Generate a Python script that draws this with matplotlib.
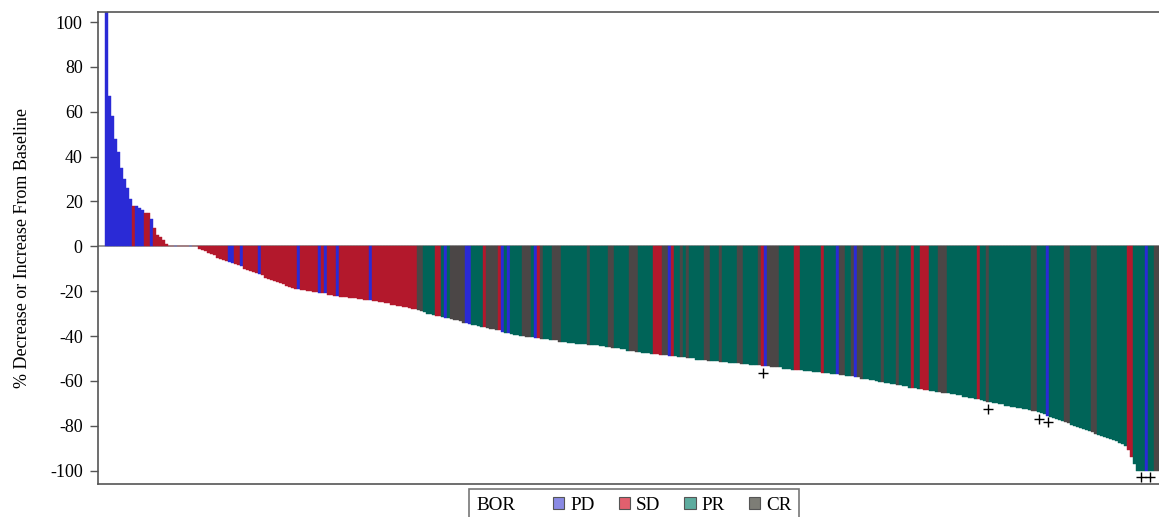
import matplotlib
matplotlib.use("Agg")
import matplotlib.pyplot as plt
import matplotlib.patches as mpatches
import numpy as np

# % change from baseline, one bar per patient, sorted
pct_change = [
    150, 67, 58, 48, 42, 35, 30, 26, 21, 18,
    18, 17, 16, 15, 15, 12, 8, 5, 4, 3,
    1, 0, 0, 0, 0, 0, 0, 0, 0, 0,
    0, -1, -1.5, -2, -3, -3.5, -4, -5, -5.5, -6,
    -6.5, -7, -7.5, -8, -8.5, -9, -10, -10.5, -11, -11.5,
    -12, -12.5, -13, -14, -14.5, -15, -15.5, -16, -16.5, -17,
    -17.5, -18, -18.5, -19, -19, -19.5, -19.5, -20, -20, -20.5,
    -20.5, -21, -21, -21, -21.5, -21.5, -22, -22, -22.5, -22.5,
    -22.5, -23, -23, -23, -23.5, -23.5, -24, -24, -24, -24.5,
    -24.5, -25, -25, -25.5, -25.5, -26, -26, -26.5, -26.5, -27,
    -27, -27.5, -28, -28, -28.5, -29, -29.5, -30, -30, -30.5,
    -31, -31, -31.5, -32, -32, -32.5, -33, -33, -33.5, -34,
    -34, -34.5, -35, -35, -35.5, -36, -36, -36.5, -37, -37,
    -37.5, -37.5, -38, -38.5, -38.5, -39, -39.5, -39.5, -40, -40,
    -40.5, -40.5, -40.5, -41, -41, -41.5, -41.5, -41.5, -42, -42,
    -42, -42.5, -42.5, -42.5, -43, -43, -43, -43.5, -43.5, -43.5,
    -43.5, -44, -44, -44, -44, -44.5, -44.5, -45, -45, -45.5,
    -45.5, -45.5, -46, -46, -46.5, -46.5, -46.5, -47, -47, -47.5,
    -47.5, -47.5, -48, -48, -48, -48.5, -48.5, -48.5, -49, -49,
    -49, -49.5, -49.5, -49.5, -50, -50, -50, -50.5, -50.5, -50.5,
    -50.5, -51, -51, -51, -51, -51.5, -51.5, -51.5, -52, -52,
    -52, -52, -52.5, -52.5, -52.5, -53, -53, -53, -53, -53.5,
    -53.5, -53.5, -54, -54, -54, -54, -54.5, -54.5, -54.5, -55,
    -55, -55, -55, -55.5, -55.5, -55.5, -56, -56, -56, -56.5,
    -56.5, -56.5, -57, -57, -57, -57.5, -57.5, -58, -58, -58,
    -58.5, -58.5, -59, -59, -59, -59.5, -59.5, -60, -60.5, -60.5,
    -61, -61, -61.5, -61.5, -62, -62, -62.5, -62.5, -63, -63,
    -63, -63.5, -63.5, -64, -64, -64.5, -64.5, -65, -65, -65.5,
    -65.5, -65.5, -66, -66, -66.5, -66.5, -67, -67, -67.5, -67.5,
    -68, -68, -68.5, -69, -69.5, -69.5, -70, -70, -70.5, -70.5,
    -71, -71, -71.5, -71.5, -72, -72, -72.5, -72.5, -73, -73.5,
    -73.5, -74, -74.5, -75, -75.5, -76, -76.5, -77, -77.5, -78,
    -78.5, -79, -79.5, -80, -80.5, -81, -81.5, -82, -82.5, -83,
    -83.5, -84, -84.5, -85, -85.5, -86, -86.5, -87, -87.5, -88,
    -89, -91, -94, -97, -100, -100, -100, -100, -100, -100, -100, -100,
]

# best overall response per bar: P=PD, S=SD, R=PR, C=CR
bor_codes = (
    "PPPPPPPPP" "S" "PPP" "SS" "P" "SSSSS" "SSPSSSSPSS" "SSSSSSSSSS"
    "PP" "SS" "P" "SSSSS" "P" "SSSSSSSSSSSS" "PS" "SSSSS" "PSP" "SSS" "P"
    "SSSSSSSSSS" "P" "SSSSSSSSSSSSSSS" "CC" "RRRR" "SS" "R" "P" "R"
    "CCCCC" "PP" "RRRR" "S" "CCCC" "S" "P" "R" "P" "RRRR" "CCC" "R" "P"
    "S" "C" "RRR" "CCC" "RRRRRRRRR" "C" "RRRRRR" "CC" "RRRRR" "CCC"
    "RRRRR" "SSS" "CC" "P" "S" "RR" "C" "R" "C" "RRRRR" "CC" "RRR" "C"
    "RRRRR" "CC" "RRRRR" "C" "S" "P" "CCCC" "RRRRR" "SS" "RRRRRRR" "S"
    "RRRR" "P" "CC" "RR" "C" "P" "CC" "RRRRRR" "C" "RRRR" "C" "RRRR" "S"
    "RR" "SSS" "RRR" "CCC" "RRRRRRRRRR" "S" "RR" "C" "RRRRRRRRRRRRRR"
    "CC" "RRR" "P" "RRRRR" "CC" "RRRRRRR" "CC" "RRRRRRRRRR" "SS" "RRRR"
    "P" "RR" "CC"
)
bor = list(bor_codes)
assert len(bor) == len(pct_change)

# bars flagged with a "+" below them
flagged = [219, 294, 311, 314, 345, 348]

categories = ["PD", "SD", "PR", "CR"]
bar_colors = {"P": "#2a2ad6", "S": "#b3182c", "R": "#006458", "C": "#4b4646"}
legend_colors = {"PD": "#8a8ae4", "SD": "#e2606e", "PR": "#5eac9f", "CR": "#7d7d76"}

plt.rcParams["font.family"] = ["Liberation Serif", "DejaVu Serif"]
plt.rcParams["axes.unicode_minus"] = False

fig = plt.figure(figsize=(11.59, 5.17), dpi=100)
ax = fig.add_axes([98 / 1159, 33 / 517, 1062 / 1159, 472 / 517])

x = np.arange(len(pct_change))
cols = [bar_colors[c] for c in bor]
ax.axhline(0, color="#8a8a8a", lw=1.2, zorder=0)
ax.bar(x, pct_change, width=1.0, color=cols, edgecolor=cols, linewidth=0.3, zorder=2)

vals = np.array(pct_change, dtype=float)
ax.plot(x[flagged], vals[flagged] - 3, linestyle="none", marker="+",
        color="black", markersize=7, markeredgewidth=1.0, zorder=3)

ax.set_xlim(-2.8, len(pct_change) - 0.5)
ax.set_ylim(-106, 104.5)
ax.set_yticks(np.arange(-100, 101, 20))
ax.set_xticks([])
ax.tick_params(axis="y", labelsize=13, length=6, width=1.0, color="#555555", pad=5)
ax.set_ylabel("% Decrease or Increase From Baseline", fontsize=13, labelpad=14)

for side in ["left", "top", "bottom", "right"]:
    ax.spines[side].set_color("#555555")
    ax.spines[side].set_linewidth(1.2)

handles = [mpatches.Patch(color="none", label="BOR")]
for cat in categories:
    handles.append(mpatches.Patch(facecolor=legend_colors[cat], edgecolor="#555555",
                                  linewidth=0.8, label=cat))
leg = fig.legend(handles=handles, loc="upper center", bbox_to_anchor=(0.547, 0.054),
                 ncol=5, fontsize=13.8, frameon=True, fancybox=False, borderaxespad=0,
                 handlelength=0.6, handleheight=0.6, handletextpad=0.3,
                 columnspacing=1.25, borderpad=0.4)
# the "BOR" entry is only a caption: put its empty swatch after the text as a gap
first_item = leg._legend_handle_box.get_children()[0].get_children()[0]
parts = first_item.get_children()
parts.reverse()
parts[1].width = 5.5
leg.get_frame().set_edgecolor("#555555")
leg.get_frame().set_linewidth(1.2)

fig.savefig("out.png", dpi=100)
